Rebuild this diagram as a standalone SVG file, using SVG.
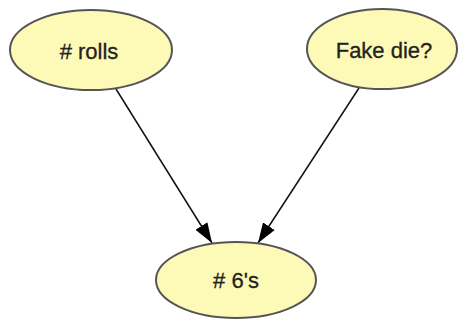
<svg xmlns="http://www.w3.org/2000/svg" width="462" height="320" viewBox="0 0 462 320">
<style>
.node ellipse{fill:#fdf9b6;stroke:#555;stroke-width:2}
.node text{font-family:"Liberation Sans",Arial,sans-serif;font-size:22px;fill:#222;stroke:#222;stroke-width:0.3;text-anchor:middle}
.edge{stroke:#111;stroke-width:1.5;fill:none;marker-end:url(#ah)}
</style>
<defs>
<marker id="ah" markerWidth="20" markerHeight="16" refX="20" refY="7" orient="auto" markerUnits="userSpaceOnUse" viewBox="0 0 20 14">
<path d="M0,0 L20,7 L0,14 z" fill="#000"/>
</marker>
</defs>
<rect width="462" height="320" fill="#fff"/>
<g id="connectors">
<line class="edge" x1="116" y1="89" x2="212" y2="243"/>
<line class="edge" x1="359" y1="88" x2="258" y2="243"/>
</g>
<g id="node-rolls" class="node">
<ellipse cx="91" cy="50" rx="81" ry="40"/>
<text x="89" y="59"># rolls</text>
</g>
<g id="node-fake" class="node">
<ellipse cx="382" cy="49" rx="75" ry="40"/>
<text x="384" y="58">Fake die?</text>
</g>
<g id="node-sixes" class="node">
<ellipse cx="236" cy="280" rx="80" ry="38"/>
<text x="236" y="288"># 6's</text>
</g>
</svg>
